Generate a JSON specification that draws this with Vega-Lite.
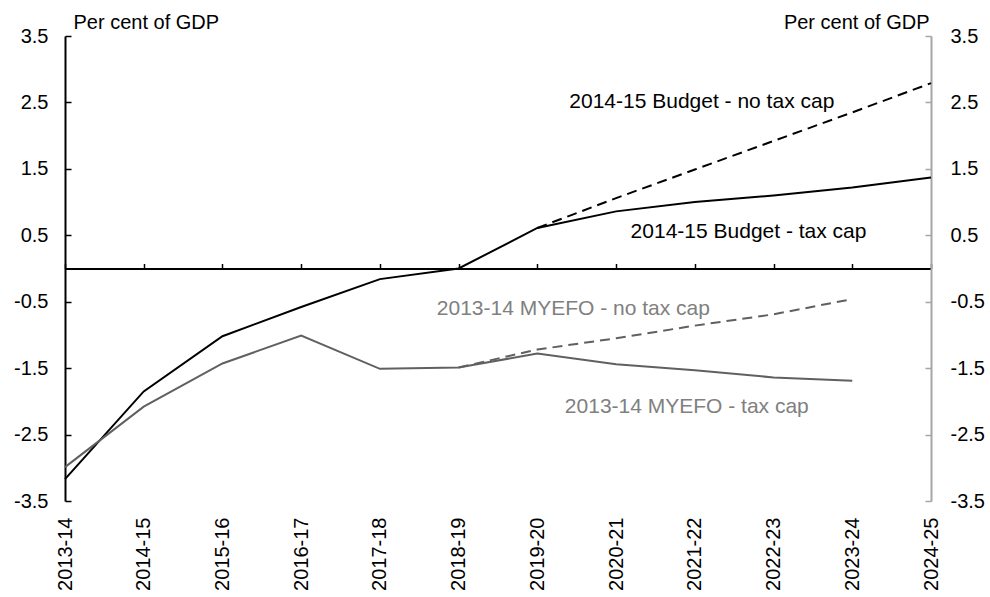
{
  "$schema": "https://vega.github.io/schema/vega-lite/v6.json",
  "width": 866,
  "height": 465,
  "autosize": "none",
  "padding": {"left": 65, "top": 36, "right": 59, "bottom": 96},
  "background": "white",
  "config": {
    "font": "Liberation Sans",
    "view": {"stroke": null},
    "axis": {"grid": false}
  },
  "datasets": {
    "series": [
      {"year": "2013-14", "series": "2014-15 Budget - tax cap", "value": -3.17},
      {"year": "2014-15", "series": "2014-15 Budget - tax cap", "value": -1.85},
      {"year": "2015-16", "series": "2014-15 Budget - tax cap", "value": -1.02},
      {"year": "2016-17", "series": "2014-15 Budget - tax cap", "value": -0.58},
      {"year": "2017-18", "series": "2014-15 Budget - tax cap", "value": -0.16},
      {"year": "2018-19", "series": "2014-15 Budget - tax cap", "value": 0.0},
      {"year": "2019-20", "series": "2014-15 Budget - tax cap", "value": 0.61},
      {"year": "2020-21", "series": "2014-15 Budget - tax cap", "value": 0.86},
      {"year": "2021-22", "series": "2014-15 Budget - tax cap", "value": 1.0},
      {"year": "2022-23", "series": "2014-15 Budget - tax cap", "value": 1.1},
      {"year": "2023-24", "series": "2014-15 Budget - tax cap", "value": 1.22},
      {"year": "2024-25", "series": "2014-15 Budget - tax cap", "value": 1.37},
      {"year": "2019-20", "series": "2014-15 Budget - no tax cap", "value": 0.61},
      {"year": "2020-21", "series": "2014-15 Budget - no tax cap", "value": 1.06},
      {"year": "2021-22", "series": "2014-15 Budget - no tax cap", "value": 1.49},
      {"year": "2022-23", "series": "2014-15 Budget - no tax cap", "value": 1.92},
      {"year": "2023-24", "series": "2014-15 Budget - no tax cap", "value": 2.35},
      {"year": "2024-25", "series": "2014-15 Budget - no tax cap", "value": 2.79},
      {"year": "2013-14", "series": "2013-14 MYEFO - tax cap", "value": -2.99},
      {"year": "2014-15", "series": "2013-14 MYEFO - tax cap", "value": -2.08},
      {"year": "2015-16", "series": "2013-14 MYEFO - tax cap", "value": -1.43},
      {"year": "2016-17", "series": "2013-14 MYEFO - tax cap", "value": -1.01},
      {"year": "2017-18", "series": "2013-14 MYEFO - tax cap", "value": -1.51},
      {"year": "2018-19", "series": "2013-14 MYEFO - tax cap", "value": -1.49},
      {"year": "2019-20", "series": "2013-14 MYEFO - tax cap", "value": -1.28},
      {"year": "2020-21", "series": "2013-14 MYEFO - tax cap", "value": -1.44},
      {"year": "2021-22", "series": "2013-14 MYEFO - tax cap", "value": -1.53},
      {"year": "2022-23", "series": "2013-14 MYEFO - tax cap", "value": -1.64},
      {"year": "2023-24", "series": "2013-14 MYEFO - tax cap", "value": -1.69},
      {"year": "2018-19", "series": "2013-14 MYEFO - no tax cap", "value": -1.49},
      {"year": "2019-20", "series": "2013-14 MYEFO - no tax cap", "value": -1.22},
      {"year": "2020-21", "series": "2013-14 MYEFO - no tax cap", "value": -1.05},
      {"year": "2021-22", "series": "2013-14 MYEFO - no tax cap", "value": -0.86},
      {"year": "2022-23", "series": "2013-14 MYEFO - no tax cap", "value": -0.69},
      {"year": "2023-24", "series": "2013-14 MYEFO - no tax cap", "value": -0.46}
    ],
    "labels": [
      {"year": "2021-22", "value": 2.42, "label": "2014-15 Budget - no tax cap", "series": "2014-15 Budget - no tax cap"},
      {"year": "2022-23", "value": 0.455, "label": "2014-15 Budget - tax cap", "series": "2014-15 Budget - tax cap"},
      {"year": "2019-20", "value": -0.7, "label": "2013-14 MYEFO - no tax cap", "series": "2013-14 MYEFO - no tax cap"},
      {"year": "2021-22", "value": -2.18, "label": "2013-14 MYEFO - tax cap", "series": "2013-14 MYEFO - tax cap"}
    ]
  },
  "layer": [
    {
      "data": {"name": "series"},
      "mark": {"type": "point", "opacity": 0},
      "encoding": {
        "x": {
          "field": "year", "type": "ordinal",
          "scale": {"type": "point", "padding": 0, "domain": ["2013-14","2014-15","2015-16","2016-17","2017-18","2018-19","2019-20","2020-21","2021-22","2022-23","2023-24","2024-25"]},
          "axis": {"orient": "bottom", "title": null, "domain": false, "ticks": false, "labelAngle": 270, "labelAlign": "right", "labelBaseline": "middle", "labelPadding": 16, "labelFontSize": 20, "labelColor": "#000000"}
        },
        "y": {
          "field": "value", "type": "quantitative",
          "scale": {"domain": [-3.5, 3.5], "nice": false, "zero": false},
          "axis": {
            "orient": "left",
            "values": [-3.5, -2.5, -1.5, -0.5, 0.5, 1.5, 2.5, 3.5],
            "labelExpr": "replace(format(datum.value, '.1f'), '\u2212', '-')",
            "domainColor": "#000000", "domainWidth": 2,
            "tickColor": "#000000", "tickWidth": 1.5, "tickSize": -6,
            "labelPadding": 23, "labelFontSize": 20, "labelColor": "#000000",
            "title": "Per cent of GDP", "titleAngle": 0, "titleAlign": "left", "titleBaseline": "alphabetic",
            "titleX": 8, "titleY": -8, "titleFontSize": 20, "titleFontWeight": "normal", "titleColor": "#000000"
          }
        }
      }
    },
    {
      "data": {"name": "series"},
      "mark": {"type": "point", "opacity": 0},
      "encoding": {
        "x": {
          "field": "year", "type": "ordinal",
          "axis": {"orient": "top", "offset": -232.5, "title": null, "labels": false, "domainColor": "#000000", "domainWidth": 2, "tickColor": "#000000", "tickWidth": 1.5, "tickSize": 5}
        },
        "y": {
          "field": "value", "type": "quantitative",
          "axis": {
            "orient": "right",
            "values": [-3.5, -2.5, -1.5, -0.5, 0.5, 1.5, 2.5, 3.5],
            "labelExpr": "replace(format(datum.value, '.1f'), '\u2212', '-')",
            "domainColor": "#a6a6a6", "domainWidth": 2,
            "tickColor": "#a6a6a6", "tickWidth": 1.5, "tickSize": -6,
            "labelPadding": 25, "labelFontSize": 20, "labelColor": "#000000",
            "title": "Per cent of GDP", "titleAngle": 0, "titleAlign": "right", "titleBaseline": "alphabetic",
            "titleX": -2, "titleY": -8, "titleFontSize": 20, "titleFontWeight": "normal", "titleColor": "#000000"
          }
        }
      }
    },
    {
      "data": {"name": "series"},
      "transform": [{"filter": "indexof(datum.series, 'no tax cap') >= 0"}],
      "mark": {"type": "line", "strokeWidth": 2, "strokeDash": [10, 6]},
      "encoding": {
        "x": {"field": "year", "type": "ordinal", "axis": null},
        "y": {"field": "value", "type": "quantitative", "axis": null},
        "color": {"field": "series", "type": "nominal", "legend": null,
          "scale": {"domain": ["2014-15 Budget - tax cap", "2014-15 Budget - no tax cap", "2013-14 MYEFO - tax cap", "2013-14 MYEFO - no tax cap"], "range": ["#000000", "#000000", "#606060", "#606060"]}}
      }
    },
    {
      "data": {"name": "series"},
      "transform": [{"filter": "indexof(datum.series, 'no tax cap') < 0"}],
      "mark": {"type": "line", "strokeWidth": 2},
      "encoding": {
        "x": {"field": "year", "type": "ordinal", "axis": null},
        "y": {"field": "value", "type": "quantitative", "axis": null},
        "color": {"field": "series", "type": "nominal", "legend": null}
      }
    },
    {
      "data": {"name": "labels"},
      "transform": [{"filter": "datum.label == '2014-15 Budget - no tax cap'"}],
      "mark": {"type": "text", "fontSize": 21, "align": "center", "baseline": "alphabetic", "dx": 7, "color": "#000000"},
      "encoding": {
        "x": {"field": "year", "type": "ordinal", "axis": null},
        "y": {"field": "value", "type": "quantitative", "axis": null},
        "text": {"field": "label"}
      }
    },
    {
      "data": {"name": "labels"},
      "transform": [{"filter": "datum.label == '2014-15 Budget - tax cap'"}],
      "mark": {"type": "text", "fontSize": 21, "align": "center", "baseline": "alphabetic", "dx": -25, "color": "#000000"},
      "encoding": {
        "x": {"field": "year", "type": "ordinal", "axis": null},
        "y": {"field": "value", "type": "quantitative", "axis": null},
        "text": {"field": "label"}
      }
    },
    {
      "data": {"name": "labels"},
      "transform": [{"filter": "datum.label == '2013-14 MYEFO - no tax cap'"}],
      "mark": {"type": "text", "fontSize": 21, "align": "center", "baseline": "alphabetic", "dx": 36, "color": "#808080"},
      "encoding": {
        "x": {"field": "year", "type": "ordinal", "axis": null},
        "y": {"field": "value", "type": "quantitative", "axis": null},
        "text": {"field": "label"}
      }
    },
    {
      "data": {"name": "labels"},
      "transform": [{"filter": "datum.label == '2013-14 MYEFO - tax cap'"}],
      "mark": {"type": "text", "fontSize": 21, "align": "center", "baseline": "alphabetic", "dx": -8, "color": "#808080"},
      "encoding": {
        "x": {"field": "year", "type": "ordinal", "axis": null},
        "y": {"field": "value", "type": "quantitative", "axis": null},
        "text": {"field": "label"}
      }
    }
  ],
  "resolve": {"axis": {"x": "independent", "y": "independent"}}
}
